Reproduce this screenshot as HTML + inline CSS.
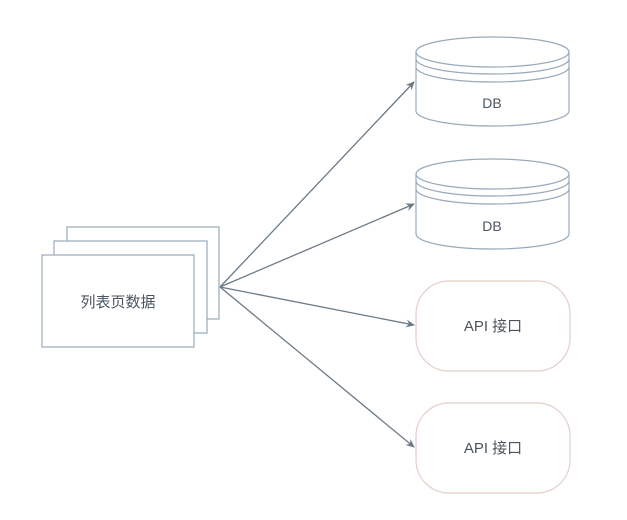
<!DOCTYPE html>
<html><head><meta charset="utf-8"><style>
html,body{margin:0;padding:0;background:#fff;}
svg{display:block;}
text{font-family:"Liberation Sans","Noto Sans CJK SC",sans-serif;fill:#4a5560;}
</style></head><body>
<svg width="627" height="520" viewBox="0 0 627 520" xmlns="http://www.w3.org/2000/svg">
<defs><marker id="a" markerWidth="10" markerHeight="10" refX="8" refY="5" orient="auto" markerUnits="userSpaceOnUse"><path d="M0,1 L9,5 L0,9 L3,5 Z" fill="#6b7a88"/></marker></defs>
<g fill="#fff" stroke="#9aaabb" stroke-width="1.2">
<rect x="67" y="227" width="152" height="92"/>
<rect x="54" y="241" width="153" height="92"/>
<rect x="42" y="255" width="152" height="92"/>
</g>
<text x="118" y="307" font-size="15" text-anchor="middle">列表页数据</text>
<g stroke="#6b7a88" stroke-width="1.3" fill="none" marker-end="url(#a)">
<line x1="220" y1="287" x2="414" y2="82"/>
<line x1="220" y1="287" x2="414" y2="204"/>
<line x1="220" y1="287" x2="414" y2="325"/>
<line x1="220" y1="287" x2="414" y2="447"/>
</g>
<g fill="#fff" stroke="#9aaabb" stroke-width="1.2">
<path d="M416,52 A76.5,15 0 0 1 569,52 L569,111 A76.5,15 0 0 1 416,111 Z"/>
<path d="M416,52 A76.5,15 0 0 0 569,52 M416,59 A76.5,15 0 0 0 569,59 M416,67 A76.5,15 0 0 0 569,67" fill="none"/>
<path d="M416,174 A76.5,15 0 0 1 569,174 L569,234 A76.5,15 0 0 1 416,234 Z"/>
<path d="M416,174 A76.5,15 0 0 0 569,174 M416,181 A76.5,15 0 0 0 569,181 M416,189 A76.5,15 0 0 0 569,189" fill="none"/>
</g>
<text x="492" y="108" font-size="14" text-anchor="middle">DB</text>
<text x="492" y="231" font-size="14" text-anchor="middle">DB</text>
<g fill="#fff" stroke="#e4cfc8" stroke-width="1.2">
<rect x="416" y="281" width="154" height="90" rx="33"/>
<rect x="416" y="403" width="154" height="90" rx="33"/>
</g>
<text x="493" y="331" font-size="15" text-anchor="middle">API 接口</text>
<text x="493" y="453" font-size="15" text-anchor="middle">API 接口</text>
</svg>
</body></html>
